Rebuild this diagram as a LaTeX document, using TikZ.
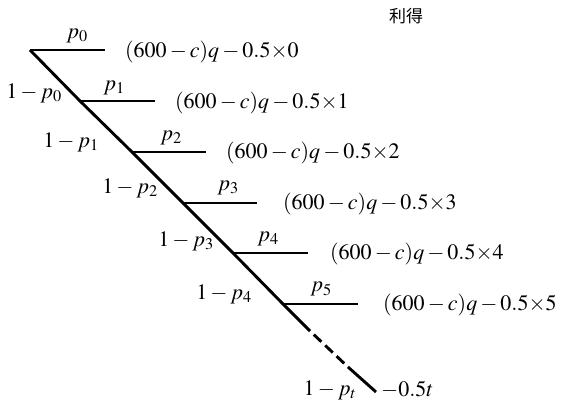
\documentclass[tikz,border=0pt]{standalone}
\usepackage{mathptmx}
\usepackage{fontspec}
\setmainfont{Liberation Serif}
\newfontfamily\cjk{Noto Sans CJK SC}
\usepackage{tikz}

\begin{document}
\begin{tikzpicture}[
    x=1pt,y=-1pt,
    branch/.style={line width=2.9pt},
    prob/.style={font=\fontsize{22}{26}\selectfont, inner sep=0pt},
    payoff/.style={prob, anchor=west},
    heading/.style={font=\cjk\fontsize{17}{20}\selectfont, inner sep=0pt}
  ]
    \useasboundingbox (0,0) rectangle (561,407);

    % stage points on the main diagonal
    \coordinate (n0) at (30,50);
    \coordinate (n1) at (80,101);
    \coordinate (n2) at (132,152);
    \coordinate (n3) at (183,203);
    \coordinate (n4) at (233,253);
    \coordinate (n5) at (283,304);
    \coordinate (cut1) at (310,331);
    \coordinate (cut2) at (348,367);
    \coordinate (tail) at (376,392);

    % ends of the stopping branches
    \coordinate (s0) at (105,50);
    \coordinate (s1) at (155,101);
    \coordinate (s2) at (206,152);
    \coordinate (s3) at (257,203);
    \coordinate (s4) at (308,253);
    \coordinate (s5) at (358,304);

    \node[heading] (title) at (406,16) {利得};

    \node[prob] (p0) at (77,36) {$p_0$};
    \node[prob] (p1) at (114,88) {$p_1$};
    \node[prob] (p2) at (171,138) {$p_2$};
    \node[prob] (p3) at (228,188) {$p_3$};
    \node[prob] (p4) at (268,239) {$p_4$};
    \node[prob] (p5) at (321,289) {$p_5$};

    \node[prob] (q0) at (34,93) {$1-p_0$};
    \node[prob] (q1) at (71,142) {$1-p_1$};
    \node[prob] (q2) at (130,188) {$1-p_2$};
    \node[prob] (q3) at (186,241) {$1-p_3$};
    \node[prob] (q4) at (224,294) {$1-p_4$};
    \node[prob] (qt) at (330,390) {$1-p_t$};

    \node[payoff] (u0) at (125,52) {$(600-c)q-0.5{\times}0$};
    \node[payoff] (u1) at (175,103) {$(600-c)q-0.5{\times}1$};
    \node[payoff] (u2) at (226,153) {$(600-c)q-0.5{\times}2$};
    \node[payoff] (u3) at (283,204) {$(600-c)q-0.5{\times}3$};
    \node[payoff] (u4) at (330,254) {$(600-c)q-0.5{\times}4$};
    \node[payoff] (u5) at (383,305) {$(600-c)q-0.5{\times}5$};
    \node[payoff] (ut) at (381,390) {$-0.5t$};

    \draw[branch] (n0) -- (n1) -- (n2) -- (n3) -- (n4) -- (n5) -- (cut1);
    \draw[branch, dash pattern=on 10.5pt off 5.2pt, dash phase=10.5pt] (cut1) -- (cut2);
    \draw[branch] (cut2) -- (tail);

    \draw[branch] (n0) -- (s0);
    \draw[branch] (n1) -- (s1);
    \draw[branch] (n2) -- (s2);
    \draw[branch] (n3) -- (s3);
    \draw[branch] (n4) -- (s4);
    \draw[branch] (n5) -- (s5);
  \end{tikzpicture}
\end{document}
